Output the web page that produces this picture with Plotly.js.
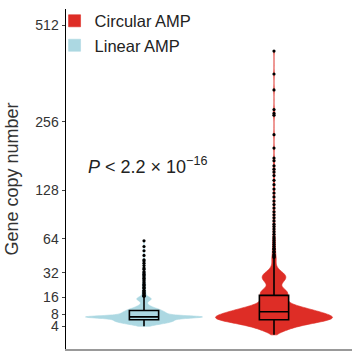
<!DOCTYPE html>
<html>
<head>
<meta charset="utf-8">
<script src="https://cdn.plot.ly/plotly-3.0.1.min.js"></script>
<style>html,body{margin:0;padding:0;background:#fff}#chart{width:357px;height:355px}</style>
</head>
<body>
<div id="chart"></div>
<script>
// Categories (left to right on the x axis)
const categories = ["Linear AMP", "Circular AMP"];

// Y tick labels (gene copy number, square-root scale)
const yTickLabels = [4, 8, 16, 32, 64, 128, 256, 512];

// Linear AMP: copy number levels and how many samples sit at each level
const linearLevels = [4, 4.5, 5, 5.5, 6, 6.5, 7, 7.5, 8, 8.5, 9, 9.5, 10, 10.5, 11, 11.5, 12, 12.5, 13, 13.5, 14, 14.5, 15, 15.5, 16, 16.5, 17];
const linearCounts = [5, 14, 24, 28, 28, 26, 77, 20, 19, 17, 15, 13, 11, 8, 6, 4, 3, 2, 2, 2, 3, 4, 5, 4, 3, 2, 1];
// Linear AMP: individual high values (outliers)
const linearHigh = [17.5, 18, 18.5, 19, 19.5, 20, 21, 21.5, 22, 23, 23.5, 24, 25, 26, 27, 28, 29, 30, 31, 32, 33, 35, 36, 38, 40, 42, 43, 47, 51.5, 55.8, 61.7];

// Circular AMP: copy number levels and counts
const circularLevels = [2, 3, 4, 5, 6, 7, 8, 9, 10, 11, 12, 13, 14, 15, 16, 17, 18, 19, 20, 21, 22, 23, 24, 25, 26, 27, 28, 29, 30, 31, 32, 33, 34, 35, 36, 37, 38, 39, 40];
const circularCounts = [4, 20, 35, 54, 73, 70, 57, 45, 35, 25, 17, 11, 11, 10, 10, 10, 10, 10, 9, 6, 4, 4, 4, 5, 6, 7, 7, 7, 7, 6, 5, 4, 3, 2, 2, 1, 1, 1, 1];
// Circular AMP: individual high values
const circularHigh = [41, 42, 43, 44, 45, 46, 47, 48, 50, 51, 53, 54, 56, 58, 60, 62, 64, 66, 69, 72, 75, 78, 81, 85, 89, 93, 97, 102, 107, 112, 118, 124, 130, 137, 144, 152, 158, 163, 169, 178, 183, 202, 229, 271, 275, 284, 331, 372, 435];

const colors = {"Linear AMP": "#acd8e2", "Circular AMP": "#de2d26"};

function expand(levels, counts, extra) {
  const out = [];
  levels.forEach((v, i) => { for (let k = 0; k < counts[i]; k++) out.push(v); });
  return out.concat(extra);
}
const sq = v => Math.sqrt(v);

const linearSamples = expand(linearLevels, linearCounts, linearHigh).map(sq);
const circularSamples = expand(circularLevels, circularCounts, circularHigh).map(sq);

function violin(name, samples, bw) {
  return {
    type: "violin",
    name: name,
    y: samples,
    x0: name,
    bandwidth: bw,
    spanmode: "hard",
    scalemode: "width",
    width: 0.9,
    fillcolor: colors[name],
    line: {color: colors[name], width: 0.6},
    opacity: 1,
    points: "outliers",
    jitter: 0,
    pointpos: 0,
    marker: {color: "#000", size: 3.2, line: {width: 0}},
    box: {visible: true, width: 0.25, fillcolor: colors[name], line: {color: "#000", width: 1.6}},
    meanline: {visible: false},
    hoverinfo: "skip"
  };
}

const data = [
  violin(categories[0], linearSamples, 0.08),
  violin(categories[1], circularSamples, 0.18)
];

const layout = {
  width: 357, height: 355,
  margin: {l: 66, r: 5, t: 4, b: 6},
  paper_bgcolor: "#fff", plot_bgcolor: "#fff",
  font: {family: "Liberation Sans, Arial, sans-serif", color: "#333"},
  violinmode: "overlay",
  showlegend: true,
  legend: {x: -0.04, y: 1.016, xanchor: "left", yanchor: "top", traceorder: "reversed",
           font: {size: 16.5, color: "#222"}, bgcolor: "rgba(0,0,0,0)"},
  xaxis: {type: "category", categoryorder: "array", categoryarray: categories,
          range: [-0.6, 1.6], showticklabels: false, ticks: "", showgrid: false, zeroline: false,
          showline: true, linecolor: "#999", linewidth: 1.5},
  yaxis: {range: [0.446, 23.74], tickvals: yTickLabels.map(sq), ticktext: yTickLabels.map(String),
          ticks: "outside", ticklen: 3, tickcolor: "#444", tickwidth: 1,
          showgrid: false, zeroline: false, showline: true, linecolor: "#000", linewidth: 1.5,
          tickfont: {size: 14, color: "#333"},
          title: {text: "Gene copy number", font: {size: 18, color: "#333"}, standoff: 12}},
  annotations: [{
    xref: "paper", yref: "paper", x: 0.07, y: 0.54, xanchor: "left", yanchor: "middle",
    text: "<i>P</i> < 2.2 × 10<sup>−16</sup>", showarrow: false,
    font: {size: 18, color: "#222"}
  }]
};

Plotly.newPlot("chart", data, layout, {displayModeBar: false, staticPlot: true});
</script>
</body>
</html>
